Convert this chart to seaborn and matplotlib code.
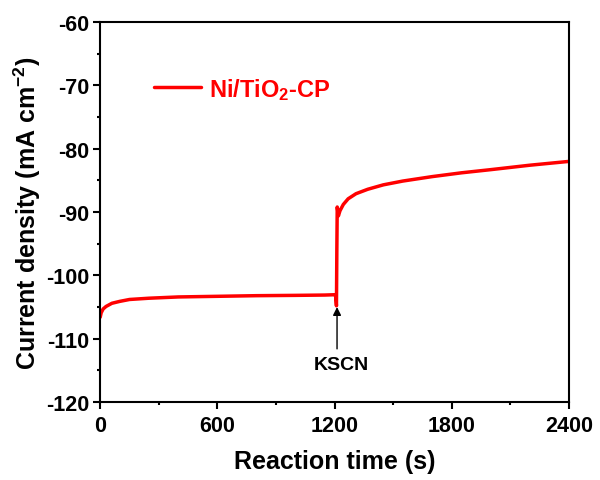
import numpy as np
import pandas as pd
import matplotlib
matplotlib.use("Agg")
import matplotlib.pyplot as plt
import seaborn as sns
from matplotlib.ticker import MultipleLocator

# chronoamperometry trace
time_s = [0, 5, 15, 30, 60, 100, 150, 250, 400, 600, 800, 1000, 1150, 1200,
          1206, 1210, 1212, 1214, 1220, 1228, 1245, 1270, 1310, 1370, 1450,
          1550, 1700, 1850, 2000, 2200, 2400]
current = [-106.6, -105.9, -105.3, -104.9, -104.4, -104.1, -103.8, -103.6,
           -103.4, -103.3, -103.2, -103.15, -103.1, -103.05, -103.3, -104.8,
           -96.0, -89.2, -90.6, -89.8, -88.8, -87.9, -87.1, -86.4, -85.7,
           -85.1, -84.4, -83.8, -83.3, -82.6, -82.0]
series_label = "Ni/TiO$_\\mathbf{2}$-CP"

df = pd.DataFrame({"t": time_s, "j": current})

sns.set_style("ticks")
plt.rcParams["font.family"] = ["Liberation Sans", "DejaVu Sans"]
plt.rcParams["font.weight"] = "bold"
plt.rcParams["axes.unicode_minus"] = False
plt.rcParams["mathtext.fontset"] = "custom"
plt.rcParams["mathtext.rm"] = "Liberation Sans:bold"
plt.rcParams["mathtext.bf"] = "Liberation Sans:bold"
plt.rcParams["mathtext.it"] = "Liberation Sans:bold"
for k in ["text.color", "axes.labelcolor", "xtick.color", "ytick.color",
          "axes.edgecolor"]:
    plt.rcParams[k] = "black"

fig, ax = plt.subplots(figsize=(6, 4.81), dpi=100)
sns.lineplot(data=df, x="t", y="j", color="#ff0000", linewidth=2.5, ax=ax,
             label=series_label)

ax.set_xlim(0, 2400)
ax.set_ylim(-120, -60)
ax.xaxis.set_major_locator(MultipleLocator(600))
ax.xaxis.set_minor_locator(MultipleLocator(300))
ax.yaxis.set_major_locator(MultipleLocator(10))
ax.yaxis.set_minor_locator(MultipleLocator(5))
ax.tick_params(which="major", direction="out", length=5, width=1.5,
               labelsize=15.5)
ax.tick_params(axis="x", which="major", pad=4)
ax.tick_params(axis="y", which="major", pad=3)
ax.tick_params(which="minor", direction="out", length=2.5, width=1.5)
for lbl in ax.get_xticklabels() + ax.get_yticklabels():
    lbl.set_fontweight("bold")
for s in ax.spines.values():
    s.set_linewidth(1.5)

ax.set_xlabel("Reaction time (s)", fontsize=18, fontweight="bold", labelpad=10)
ax.set_ylabel("Current density (mA cm$^{\\mathbf{-2}}$)", fontsize=18,
              fontweight="bold", labelpad=2)

ax.annotate("", xy=(1213, -105.0), xytext=(1213, -111.6),
            arrowprops=dict(arrowstyle="-|>", color="black", lw=1,
                            shrinkA=0, shrinkB=0, mutation_scale=12))
ax.text(1233, -114.0, "KSCN", ha="center", va="center", fontsize=14,
        fontweight="bold")

leg = ax.legend(loc="upper left", bbox_to_anchor=(0.07, 0.915), frameon=False,
                handlelength=2.0, handletextpad=0.3,
                prop={"size": 17, "weight": "bold"}, labelcolor="#ff0000")

fig.subplots_adjust(left=0.167, right=0.948, top=0.952, bottom=0.162)
fig.savefig("out.png", dpi=100)
